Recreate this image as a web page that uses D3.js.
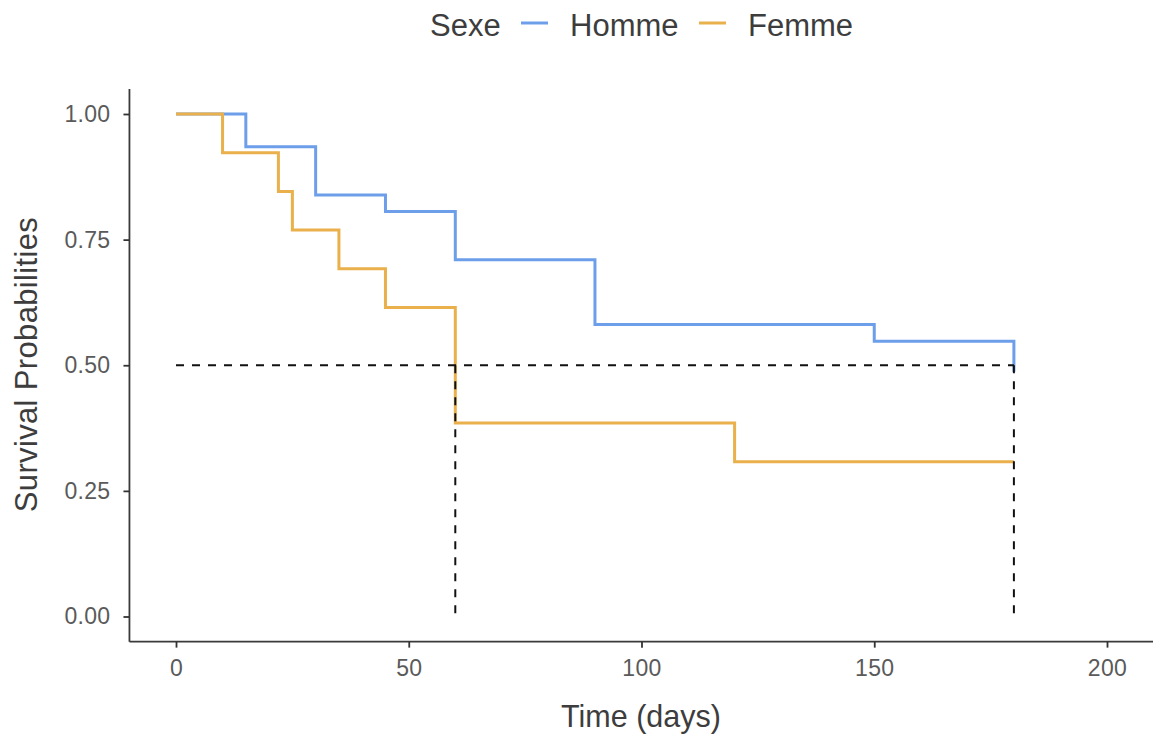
<!DOCTYPE html>
<html>
<head>
<meta charset="utf-8">
<script src="https://cdn.jsdelivr.net/npm/d3@7"></script>
<style>
  html, body { margin: 0; padding: 0; background: #fff; }
  svg { display: block; font-family: "Liberation Sans", Arial, sans-serif; }
</style>
</head>
<body>
<div id="chart"></div>
<script>
const width = 1153;
const height = 742;

// Kaplan-Meier steps
const hommeTime = [0, 15, 30, 45, 60, 90, 150, 180];
const hommeSurv = [1, 0.935, 0.839, 0.806, 0.710, 0.581, 0.548, 0.487];
const femmeTime = [0, 10, 22, 25, 35, 45, 60, 120, 180];
const femmeSurv = [1, 0.923, 0.846, 0.769, 0.692, 0.615, 0.385, 0.308, 0.308];

const groups = ["Homme", "Femme"];
const colors = ["#6d9eea", "#e9b04b"];
const medianTimes = [60, 180];
const xTicks = [0, 50, 100, 150, 200];
const yTicks = [0, 0.25, 0.5, 0.75, 1];

const x = d3.scaleLinear().domain([0, 200]).range([176, 1107]);
const y = d3.scaleLinear().domain([0, 1]).range([616.5, 114]);

const svg = d3.select("#chart").append("svg")
	.attr("width", width)
	.attr("height", height);

// axes
const xAxis = svg.append("g")
	.attr("transform", `translate(0,${y(-0.05)})`)
	.call(d3.axisBottom(x).tickValues(xTicks).tickSize(6).tickPadding(12).tickSizeOuter(0));
xAxis.select(".domain").attr("d", `M${x(-10)},0H${x(210)}`);

const yAxis = svg.append("g")
	.attr("transform", `translate(${x(-10)},0)`)
	.call(d3.axisLeft(y).tickValues(yTicks).tickFormat(d3.format(".2f")).tickSize(6).tickPadding(13).tickSizeOuter(0));
yAxis.select(".domain").attr("d", `M0,${y(1.05)}V${y(-0.05)}`);

svg.selectAll(".domain").attr("stroke", "#3a3a3a").attr("stroke-width", 1.8);
svg.selectAll(".tick line").attr("stroke", "#333").attr("stroke-width", 1.8);
svg.selectAll(".tick text").attr("fill", "#5a5a5a").style("font-size", "23px").style("letter-spacing", "0.3px");

// curves
const line = d3.line()
	.x(d => x(d[0]))
	.y(d => y(d[1]))
	.curve(d3.curveStepAfter);

const series = [
	d3.zip(hommeTime, hommeSurv),
	d3.zip(femmeTime, femmeSurv)
];

svg.append("g")
	.selectAll("path")
	.data(series)
	.enter().append("path")
	.attr("d", line)
	.attr("fill", "none")
	.attr("stroke", (d, i) => colors[i])
	.attr("stroke-width", 3);

// median lines
const med = svg.append("g")
	.attr("stroke", "#111")
	.attr("stroke-width", 2)
	.attr("stroke-dasharray", "8,8")
	.attr("fill", "none");
med.append("line")
	.attr("x1", x(0)).attr("x2", x(d3.max(medianTimes)))
	.attr("y1", y(0.5)).attr("y2", y(0.5));
med.selectAll(".v")
	.data(medianTimes)
	.enter().append("line")
	.attr("x1", d => x(d)).attr("x2", d => x(d))
	.attr("y1", y(0.5)).attr("y2", y(0));

// axis titles
svg.append("text")
	.attr("x", 641).attr("y", 727)
	.attr("text-anchor", "middle")
	.attr("fill", "#3d3d3d")
	.style("font-size", "30.5px")
	.text("Time (days)");

svg.append("text")
	.attr("transform", "translate(37,364.5) rotate(-90)")
	.attr("text-anchor", "middle")
	.attr("fill", "#3d3d3d")
	.style("font-size", "31px")
	.style("letter-spacing", "0.35px")
	.text("Survival Probabilities");

// legend
const legend = svg.append("g");
legend.append("text")
	.attr("x", 430).attr("y", 36)
	.attr("fill", "#3d3d3d")
	.style("font-size", "31px")
	.text("Sexe");

const keyX = [521, 699];
groups.forEach((g, i) => {
	legend.append("line")
		.attr("x1", keyX[i]).attr("x2", keyX[i] + 27)
		.attr("y1", 23).attr("y2", 23)
		.attr("stroke", colors[i])
		.attr("stroke-width", 3);
	legend.append("text")
		.attr("x", keyX[i] + 49).attr("y", 36)
		.attr("fill", "#3d3d3d")
		.style("font-size", "31px")
		.text(g);
});
</script>
</body>
</html>
